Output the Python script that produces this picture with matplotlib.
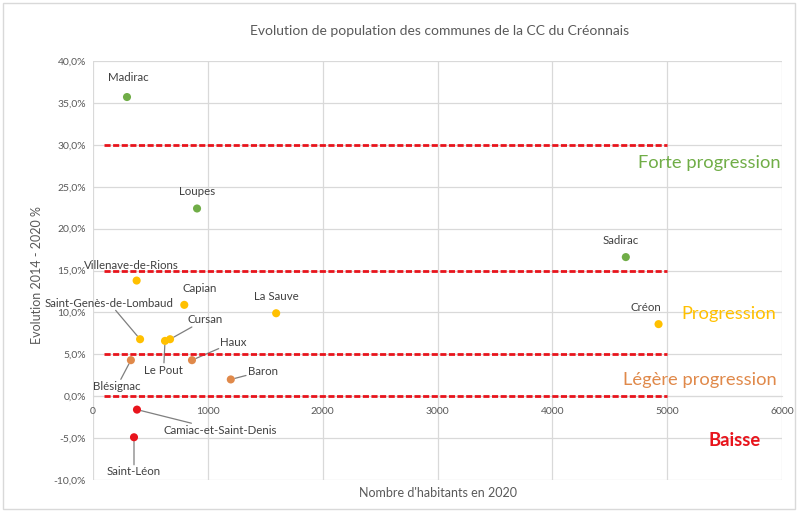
import matplotlib
matplotlib.use("Agg")
import matplotlib.pyplot as plt
from matplotlib.patches import Rectangle
from matplotlib.ticker import FuncFormatter, MultipleLocator

plt.rcParams['font.family'] = ['Lato', 'DejaVu Sans']

# communes, population 2020, evolution 2014-2020 (%)
communes = ["Madirac", "Loupes", "Sadirac", "Villenave-de-Rions", "Capian", "La Sauve",
            "Créon", "Saint-Genès-de-Lombaud", "Le Pout", "Cursan", "Blésignac", "Haux",
            "Baron", "Camiac-et-Saint-Denis", "Saint-Léon"]
habitants = [296, 906, 4640, 380, 795, 1595, 4925, 410, 627, 671, 330, 862, 1200, 383, 357]
evolution = [35.7, 22.4, 16.6, 13.8, 10.9, 9.9, 8.6, 6.8, 6.6, 6.8, 4.3, 4.3, 2.0, -1.6, -4.9]

seuils = [30, 15, 5, 0]
seuil_x = [100, 5000]

# label offsets (points) relative to each dot, True = leader line
label_pos = {
    "Madirac": (1, 14, False), "Loupes": (0, 12, False), "Sadirac": (-4, 12, False),
    "Villenave-de-Rions": (-4, 11, False), "Capian": (11, 12, False), "La Sauve": (0, 12, False),
    "Créon": (-9, 12, False), "Saint-Genès-de-Lombaud": (-22, 26, True),
    "Le Pout": (-1, -21, True), "Cursan": (25, 14, True), "Blésignac": (-10, -19, True),
    "Haux": (30, 13, True), "Baron": (23, 6, True), "Camiac-et-Saint-Denis": (60, -15, True),
    "Saint-Léon": (0, -25, True),
}

def couleur(v):
    if v >= 15:
        return "#70ad47"
    if v >= 5:
        return "#ffc000"
    if v >= 0:
        return "#e0894a"
    return "#e8141c"

fig = plt.figure(figsize=(7.98, 5.14), dpi=100)
ax = fig.add_axes([93/798, 1-480/514, (782-93)/798, (480-61)/514])

ax.set_xlim(0, 6000)
ax.set_ylim(-10, 40)
ax.xaxis.set_major_locator(MultipleLocator(1000))
ax.yaxis.set_major_locator(MultipleLocator(5))
ax.yaxis.set_major_formatter(FuncFormatter(lambda v, p: f"{v:.1f}%".replace(".", ",")))
ax.grid(True, color="#d9d9d9", lw=0.9)
ax.set_axisbelow(True)
for s in ["top", "right", "left"]:
    ax.spines[s].set_visible(False)
ax.spines["bottom"].set_position(("data", 0))
ax.spines["bottom"].set_color("#d9d9d9")
ax.tick_params(length=0, labelsize=7.5, colors="#595959", pad=5)
ax.tick_params(axis="x", pad=8)

for y in seuils:
    ax.plot(seuil_x, [y, y], color="#e8141c", lw=2.0, ls=(0, (2.2, 0.9)), zorder=3)

for nom, x, y in zip(communes, habitants, evolution):
    ax.scatter(x, y, s=34, color=couleur(y), zorder=4, edgecolors="none")
    dx, dy, leader = label_pos[nom]
    if leader:
        ax.annotate(nom, (x, y), xytext=(dx, dy), textcoords="offset points",
                    ha="center", va="center", fontsize=8.3, color="#404040", zorder=2,
                    bbox=dict(boxstyle="square,pad=0.15", fc="none", ec="none"),
                    arrowprops=dict(arrowstyle="-", color="#7f7f7f", lw=0.9,
                                    shrinkA=0, shrinkB=3))
    else:
        ax.annotate(nom, (x, y), xytext=(dx, dy), textcoords="offset points",
                    ha="center", va="center", fontsize=8.3, color="#404040", zorder=2)

ax.text(5366, 27.8, "Forte progression", color="#70ad47", fontsize=13.2, ha="center", va="center")
ax.text(5540, 9.8, "Progression", color="#ffc000", fontsize=13.2, ha="center", va="center")
ax.text(5287, 1.9, "Légère progression", color="#e0894a", fontsize=13.2, ha="center", va="center")
ax.text(5584, -5.3, "Baisse", color="#e8141c", fontsize=13.2, fontweight="bold",
        ha="center", va="center")

fig.text(440/798, 1-31/514, "Evolution de population des communes de la CC du Créonnais",
         ha="center", va="center", fontsize=10, color="#595959")
fig.text(438/798, 1-493/514, "Nombre d'habitants en 2020", ha="center", va="center",
         fontsize=9, color="#595959")
fig.text(37/798, 1-275/514, "Evolution 2014 - 2020 %", ha="center", va="center",
         rotation=90, fontsize=9, color="#595959")

fig.patches.append(Rectangle((0.004, 0.01), 0.992, 0.985, transform=fig.transFigure,
                             fill=False, ec="#d9d9d9", lw=1))

fig.savefig("out.png", dpi=100)
